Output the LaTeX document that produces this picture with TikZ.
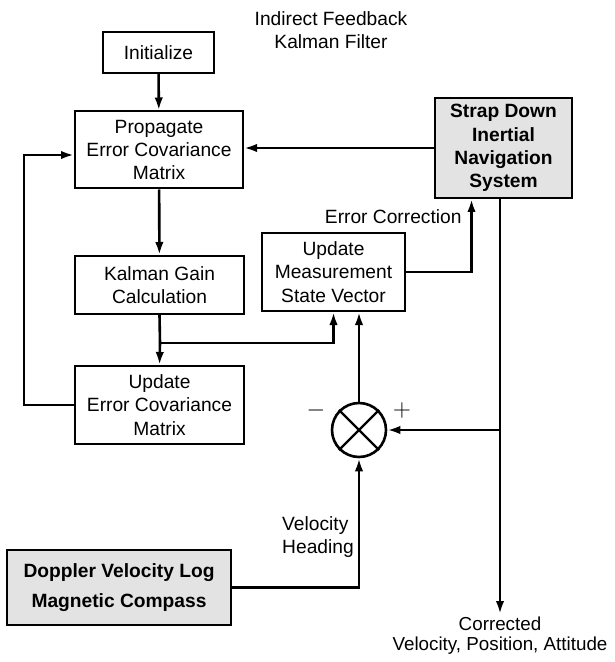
\documentclass[tikz,border=0pt]{standalone}
\usepackage{fontspec}
\setmainfont{Liberation Sans}
\usetikzlibrary{arrows.meta}

\begin{document}
\begin{tikzpicture}[x=0.5pt,y=-0.5pt,
    font=\fontsize{9.6}{11.7}\selectfont,
    blk/.style={draw,line width=1pt,align=center,inner sep=1pt},
    shd/.style={blk,fill=gray!22,font=\fontsize{9.6}{11.7}\selectfont\bfseries},
    arr/.style={line width=1.3pt,-{Latex[length=6.5pt,width=4.2pt]}},
    ln/.style={line width=1.3pt}]
    \useasboundingbox (0,0) rectangle (614,662);

    % Title
    \node[align=center] (title) at (331,30) {Indirect Feedback\\Kalman Filter};

    % Filter blocks
    \node[blk,minimum width=55.5pt,minimum height=20.5pt] (init) at (158.5,52.5) {Initialize};
    \node[blk,minimum width=84pt,minimum height=38.5pt] (prop) at (159,150)
      {Propagate\\Error Covariance\\Matrix};
    \node[blk,minimum width=84.5pt,minimum height=29pt] (gain) at (159.5,285)
      {Kalman Gain\\Calculation};
    \node[blk,minimum width=84.5pt,minimum height=39pt] (uerr) at (159.5,405)
      {Update\\Error Covariance\\Matrix};
    \node[blk,minimum width=71.5pt,minimum height=39pt] (meas) at (333.5,272)
      {Update\\Measurement\\State Vector};

    % Sensors
    \node[shd,minimum width=68.5pt,minimum height=50pt] (sdins) at (503.5,148)
      {Strap Down\\Inertial\\Navigation\\System};
    \node[shd,minimum width=112pt,minimum height=37.5pt] (dvl) at (119,587.5)
      {Doppler Velocity Log\\[3pt]Magnetic Compass};

    % Summing junction
    \node[circle,draw,line width=1.3pt,minimum size=27pt,inner sep=0pt] (sum) at (359,430) {};
    \draw[line width=1.1pt] (sum.45) -- (sum.225) (sum.135) -- (sum.-45);
    \node (minus) at (316,410) {\fontsize{13}{13}\selectfont $-$};
    \node (plus) at (402,410) {\fontsize{13}{13}\selectfont $+$};

    % Output
    \node[align=center,anchor=north,inner sep=1pt,font=\fontsize{9.4}{10}\selectfont]
      (out) at (500,614) {Corrected\\Velocity, Position, Attitude};

    % Filter loop
    \draw[arr] (init) -- (prop);
    \draw[arr] (sdins.west) -- (prop.east |- sdins.west);
    \draw[arr] (prop) -- (gain);
    \coordinate (split) at (160,343);
    \draw[ln] (gain.south) -- (split);
    \draw[arr] (split) -- (uerr.north);
    \draw[arr] (split) -| (meas.south);
    \coordinate (lp) at (24,155);
    \draw[arr] (uerr.west) -| (lp) -- (prop.west |- lp);

    % Measurement paths
    \draw[arr] (sum.north) -- (sum.north |- meas.south);
    \draw[arr] (meas.east) -| ([xshift=-16pt]sdins.south)
      node[pos=0.88,left=1pt] (errc) {Error Correction};
    \draw[arr] (sdins.south -| out.north) -- (out.north);
    \draw[arr] (out.north |- sum.east) -- (sum.east);
    \draw[arr] (dvl.east) -| (sum.south);
    \node[align=left] (velh) at (318,537) {Velocity\\Heading};
\end{tikzpicture}
\end{document}
